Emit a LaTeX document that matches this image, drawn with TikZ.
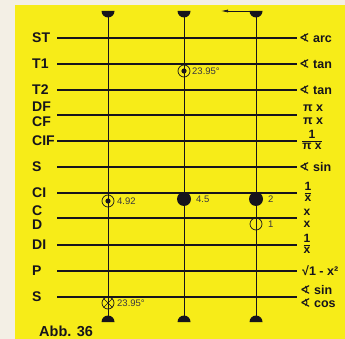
\documentclass[tikz,border=0pt]{standalone}
\usepackage{fontspec}
\setmainfont{Liberation Sans}
\newfontfamily\symfont{DejaVu Sans}
\usetikzlibrary{arrows.meta,calc}
\definecolor{scaleyellow}{RGB}{247,236,24}
\definecolor{paper}{RGB}{243,239,229}
\definecolor{ink}{RGB}{22,20,28}
\newcommand{\ang}{{\symfont\bfseries ∢}}
\newcommand{\frc}[2]{{\setlength\arrayrulewidth{0.9pt}\renewcommand\arraystretch{0.85}%
  \begin{tabular}{@{}c@{}}#1\\\hline #2\end{tabular}}}

\begin{document}
\begin{tikzpicture}[x=1pt, y=-1pt,
    lbl/.style={anchor=west, inner sep=0pt, font=\fontsize{14}{14}\selectfont\bfseries, text=ink},
    rlbl/.style={anchor=west, inner sep=0pt, font=\fontsize{12.5}{12.5}\selectfont\bfseries, text=ink},
    flbl/.style={inner sep=0pt, font=\fontsize{12}{12}\selectfont\bfseries, text=ink},
    val/.style={anchor=west, inner sep=0pt, font=\fontsize{9.5}{9.5}\selectfont, text=ink!85},
    vline/.style={line width=0.7pt, draw=ink},
    ring/.style={circle, draw=ink, line width=0.7pt, minimum size=12pt, inner sep=0pt},
    blob/.style={circle, fill=ink, minimum size=14pt, inner sep=0pt}]
    \useasboundingbox (0,0) rectangle (345,339);
    % Card
    \fill[paper] (0,0) rectangle (345,339);
    \fill[scaleyellow] (15,5) rectangle (345,339);

    % Scale lines
    \foreach \n/\y/\lw in {st/38/1.1, t1/64/1.1, t2/90/1.1, dfcf/115/1.8, cif/141/1.1, s/167/1.1,
        ci/193/1.1, cd/218/1.8, di/245/1.1, p/271/1.1, sb/297/1.1}
    {
        \coordinate (\n-l) at (57,\y);
        \coordinate (\n-r) at (297,\y);
        \draw[line width=\lw pt, draw=ink] (\n-l) -- (\n-r);
    }

    % Scale names
    \foreach \t/\y in {ST/38, T1/64, T2/90, DF/107, CF/122, CIF/141, S/167, CI/193, C/211, D/225, DI/245, P/271, S/297}
        \node[lbl] (lab-\y) at (32,\y) {\t};

    % Cursor lines with half-disk ends
    \foreach \c/\x in {a/108, b/184, c/256}
    {
        \coordinate (\c-top) at (\x,11);
        \coordinate (\c-bot) at (\x,322);
        \draw[vline] (\c-top) -- (\c-bot);
        \fill[ink] (\c-top) ++(-6.5,0) arc[start angle=180, end angle=0, radius=6.5] -- cycle;
        \fill[ink] (\c-bot) ++(-6.5,0) arc[start angle=180, end angle=360, radius=6.5] -- cycle;
    }
    \coordinate (arr-tip) at (221,11);
    \draw[line width=0.7pt, draw=ink, -{Latex[length=7pt,width=3pt]}] (c-top) -- (arr-tip);

    % Settings
    \node[ring] (m-t1) at (184,71) {};
    \fill[ink] (m-t1) circle[radius=2.6pt];
    \node[val] (v-t1) at (192,71) {23.95°};

    \node[ring] (m-ci) at (108,201) {};
    \fill[ink] (m-ci) circle[radius=2.6pt];
    \node[val] (v-ci) at (117,201) {4.92};

    \node[blob] (m-ci2) at (184,199) {};
    \node[val] (v-ci2) at (196,199) {4.5};

    \node[blob] (m-ci3) at (256,199) {};
    \node[val] (v-ci3) at (268,199) {2};

    \node[ring] (m-cd) at (256,224) {};
    \node[val] (v-cd) at (268,224) {1};

    \node[ring] (m-sb) at (108,303) {};
    \draw[ink, line width=0.7pt] (m-sb.north west) -- (m-sb.south east)
        (m-sb.north east) -- (m-sb.south west);
    \node[val] (v-sb) at (117,303) {23.95°};

    % Functions
    \node[rlbl] (f-st) at (299,38) {\ang\ arc};
    \node[rlbl] (f-t1) at (299,64) {\ang\ tan};
    \node[rlbl] (f-t2) at (299,90) {\ang\ tan};
    \node[rlbl] (f-df) at (303,108) {π x};
    \node[rlbl] (f-cf) at (303,121) {π x};
    \node[flbl] (f-cif) at (312,141) {\frc{1}{π x}};
    \node[rlbl] (f-s) at (299,167) {\ang\ sin};
    \node[flbl] (f-ci) at (308,193) {\frc{1}{x}};
    \node[flbl] (f-c) at (307,212) {x};
    \node[flbl] (f-d) at (307,224) {x};
    \node[flbl] (f-di) at (307,245) {\frc{1}{x}};
    \node[rlbl] (f-p) at (302,271) {√1 - x²};
    \node[rlbl] (f-sb) at (300,290) {\ang\ sin};
    \node[rlbl] (f-cb) at (300,303) {\ang\ cos};

    \node[lbl, font=\fontsize{14.5}{14.5}\selectfont\bfseries] (caption) at (39,331) {Abb. 36};
\end{tikzpicture}
\end{document}
